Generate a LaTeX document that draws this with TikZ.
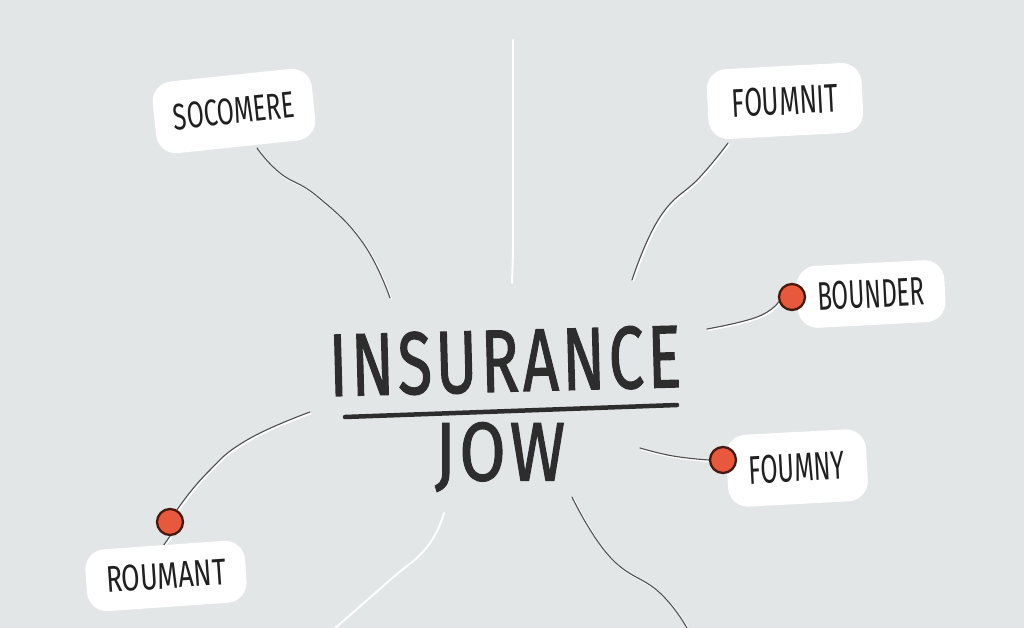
\documentclass[tikz,border=0pt]{standalone}
\usepackage{fontspec}
\usepackage{graphicx}
\setmainfont{Fira Sans}
\newfontfamily\titlefont[FakeBold=1.6, LetterSpace=6]{Fira Sans}
\usetikzlibrary{backgrounds}
\definecolor{bg}{RGB}{226,230,230}
\definecolor{ink}{RGB}{32,32,32}
\definecolor{titleink}{RGB}{45,45,45}
\definecolor{wire}{RGB}{80,80,80}
\definecolor{dotfill}{RGB}{232,88,60}
\definecolor{dotline}{RGB}{70,25,15}
\newcommand{\fitlabel}[3]{\resizebox{#1pt}{#2pt}{#3}}
\begin{document}
\begin{tikzpicture}[x=1pt,y=-1pt,
  labelbox/.style={fill=white, rounded corners=20pt, inner sep=0pt, text=ink},
  pin/.style={circle, fill=dotfill, draw=dotline, line width=2.3pt, minimum size=26pt, inner sep=0pt},
  wireline/.style={draw=wire, line width=1.1pt, line cap=round,
    preaction={draw=white, line width=1.8pt, transform canvas={shift={(1.2pt,-1.2pt)}}}},
  glowline/.style={draw=white, line width=2pt, line cap=round},
  titletext/.style={text=titleink, inner sep=0pt, font=\titlefont},
  underline/.style={draw=titleink, line width=4.5pt, line cap=round}]
\begin{pgfonlayer}{background}
\fill[bg] (0,0) rectangle (1024,628);
\end{pgfonlayer}
\useasboundingbox (0,0) rectangle (1024,628);

% title
\node[titletext, rotate=1.5] (title) at (505,361) {\fitlabel{352}{62}{INSURANCE}};
\node[titletext] (jow) at (500,457) {\fitlabel{130}{58}{JOW}};
\coordinate (ulA) at (345,417);
\coordinate (ulB) at (677,405);
\draw[underline] (ulA) -- (ulB);

% label boxes
\node[labelbox, minimum width=160pt, minimum height=72pt, rotate=6] (soc) at (234,111) {\fitlabel{122}{26}{SOCOMERE}};
\node[labelbox, minimum width=155pt, minimum height=70pt, rotate=3] (fnit) at (785,101) {\fitlabel{106}{28}{FOUMNIT}};
\node[labelbox, minimum width=148pt, minimum height=62pt, rotate=3] (bnd) at (871,294) {\fitlabel{107}{28}{BOUNDER}};
\node[labelbox, minimum width=140pt, minimum height=72pt, rotate=3] (fny) at (797,468) {\fitlabel{96}{28}{FOUMNY}};
\node[labelbox, minimum width=160pt, minimum height=62pt, rotate=4] (rou) at (166,576) {\fitlabel{120}{26}{ROUMANT}};

% pins
\node[pin] (bdot) at (792,297) {};
\node[pin] (fdot) at (723,460) {};
\node[pin] (rdot) at (170,522) {};

% free ends
\coordinate (socS) at (257,148);
\coordinate (socE) at (390,298);
\coordinate (topS) at (513,40);
\coordinate (topE) at (512,283);
\coordinate (fnitS) at (728,143);
\coordinate (fnitE) at (632,280);
\coordinate (bndS) at (707,329);
\coordinate (fnyS) at (640,448);
\coordinate (rouS) at (310,412);
\coordinate (blS) at (444,513);
\coordinate (blE) at (333,630);
\coordinate (brS) at (572,497);
\coordinate (brE) at (688,630);

\begin{pgfonlayer}{background}
\draw[wireline] plot[smooth, tension=0.8] coordinates {(socS) (280,173) (318,197) (363,243) (socE)};
\draw[glowline] (topS) -- (513,250) -- (topE);
\draw[wireline] plot[smooth, tension=0.8] coordinates {(fnitS) (700,177) (660,217) (fnitE)};
\draw[wireline] plot[smooth, tension=0.8] coordinates {(bndS) (757,317) (bdot.200)};
\draw[wireline] plot[smooth, tension=0.8] coordinates {(fnyS) (673,456) (fdot.180)};
\draw[wireline] plot[smooth, tension=0.8] coordinates {(rouS) (247,440) (207,473) (rdot.60)};
\draw[wireline] (rdot.south) -- (rou.north);
\draw[glowline] plot[smooth, tension=0.8] coordinates {(blS) (427,547) (390,580) (blE)};
\draw[wireline] plot[smooth, tension=0.8] coordinates {(brS) (610,557) (660,593) (brE)};
\end{pgfonlayer}
\end{tikzpicture}
\end{document}
